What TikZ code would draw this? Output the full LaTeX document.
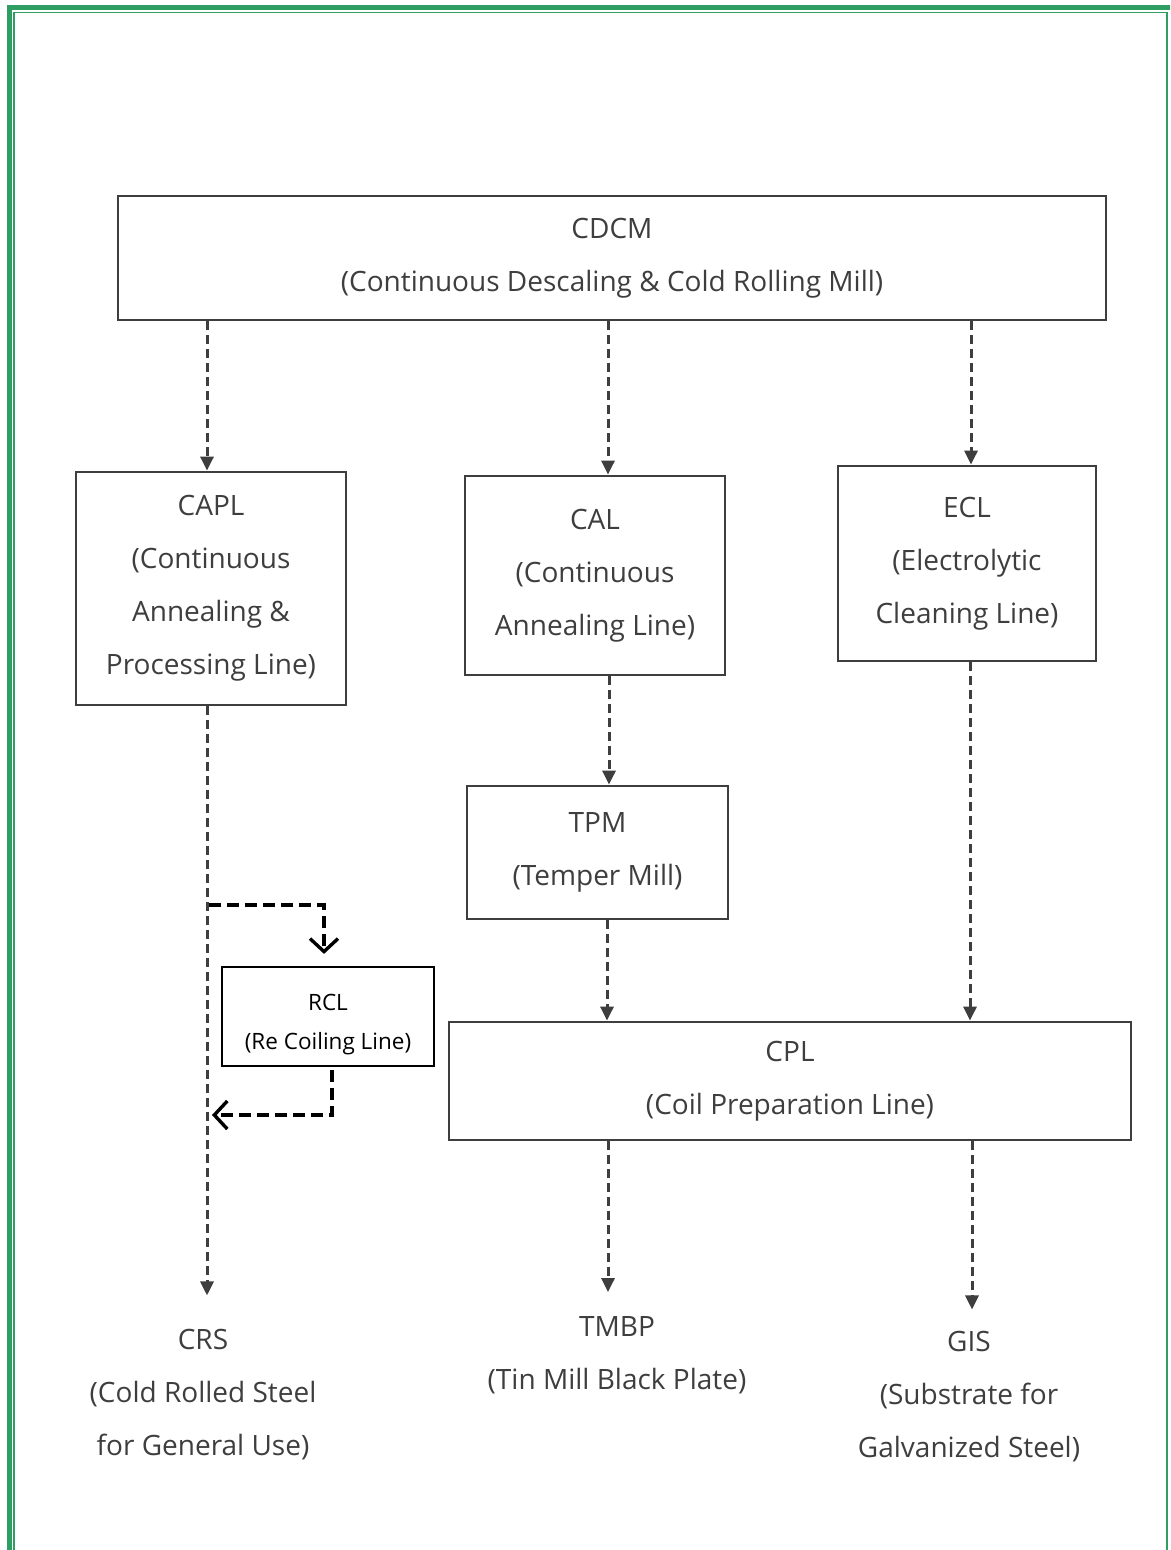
\documentclass[tikz,border=0pt]{standalone}
\usepackage{fontspec}
\setmainfont{Open Sans}
\usetikzlibrary{arrows.meta}
\definecolor{frameg}{RGB}{46,158,98}
\definecolor{ink}{RGB}{62,62,62}
\begin{document}
\begin{tikzpicture}[x=1pt,y=-1pt,
  box/.style={draw=ink, line width=2.8pt, inner sep=0pt, align=center, text=ink, font=\fontsize{28}{53}\selectfont},
  lbl/.style={inner sep=0pt, align=center, text=ink, font=\fontsize{28}{53}\selectfont},
  flow/.style={draw=ink, line width=3pt, dash pattern=on 9pt off 5pt, -{Triangle[width=13pt,length=14pt]}},
  rclbox/.style={draw=black, line width=2.2pt, inner sep=0pt, align=center, font=\fontsize{22.5}{39}\selectfont},
  rclflow/.style={draw=black, line width=3.2pt, dash pattern=on 12pt off 6pt, -{Straight Barb[length=13pt,width=28pt,line width=3.4pt]}},
]
\useasboundingbox (0,0) rectangle (1170,1550);
\fill[white] (0,0) rectangle (1170,1550);
\begin{scope}
\clip (0,0) rectangle (1170,1550);
\draw[frameg, line width=5pt] (9.5,7.5) rectangle (1175,1570);
\draw[frameg, line width=1.5pt] (14,12.5) rectangle (1167,1570);
\end{scope}

\node[box, minimum width=988pt, minimum height=124pt] (cdcm) at (612,258) {CDCM\\(Continuous Descaling \& Cold Rolling Mill)};
\node[box, minimum width=270pt, minimum height=233pt] (capl) at (211,588.5) {CAPL\\(Continuous\\Annealing \&\\Processing Line)};
\node[box, minimum width=260pt, minimum height=199pt] (cal) at (595,575.5) {CAL\\(Continuous\\Annealing Line)};
\node[box, minimum width=258pt, minimum height=195pt] (ecl) at (967,563.5) {ECL\\(Electrolytic\\Cleaning Line)};
\node[box, minimum width=261pt, minimum height=133pt] (tpm) at (597.5,852.5) {TPM\\(Temper Mill)};
\node[box, minimum width=682pt, minimum height=118pt] (cpl) at (790,1081) {CPL\\(Coil Preparation Line)};
\node[rclbox, minimum width=212pt, minimum height=99pt] (rcl) at (328,1016.5) {\rule{0pt}{33pt}RCL\\(Re Coiling Line)};
\node[lbl] (crs) at (203,1395) {CRS\\(Cold Rolled Steel\\for General Use)};
\node[lbl] (tmbp) at (617,1355) {TMBP\\(Tin Mill Black Plate)};
\node[lbl] (gis) at (969,1397) {GIS\\(Substrate for\\Galvanized Steel)};

\draw[flow] (207,0 |- cdcm.south) -- (207,0 |- capl.north);
\draw[flow] (608,0 |- cdcm.south) -- (608,0 |- cal.north);
\draw[flow] (971,0 |- cdcm.south) -- (971,0 |- ecl.north);
\draw[flow] (609,0 |- cal.south) -- (609,0 |- tpm.north);
\draw[flow] (607,0 |- tpm.south) -- (607,0 |- cpl.north);
\draw[flow] (970,0 |- ecl.south) -- (970,0 |- cpl.north);
\draw[flow, shorten >=34pt] (207,0 |- capl.south) -- (207,0 |- crs.north);
\draw[flow, shorten >=24pt] (608,0 |- cpl.south) -- (608,0 |- tmbp.north);
\draw[flow, shorten >=22pt] (972,0 |- cpl.south) -- (972,0 |- gis.north);

\coordinate (j1) at (209,905);
\coordinate (j2) at (207,1115);
\draw[rclflow, shorten >=12pt] (j1) -| ([xshift=-4pt]rcl.north);
\draw[rclflow, shorten >=5pt] ([xshift=4pt,yshift=-3pt]rcl.south) |- (j2);
\end{tikzpicture}
\end{document}
